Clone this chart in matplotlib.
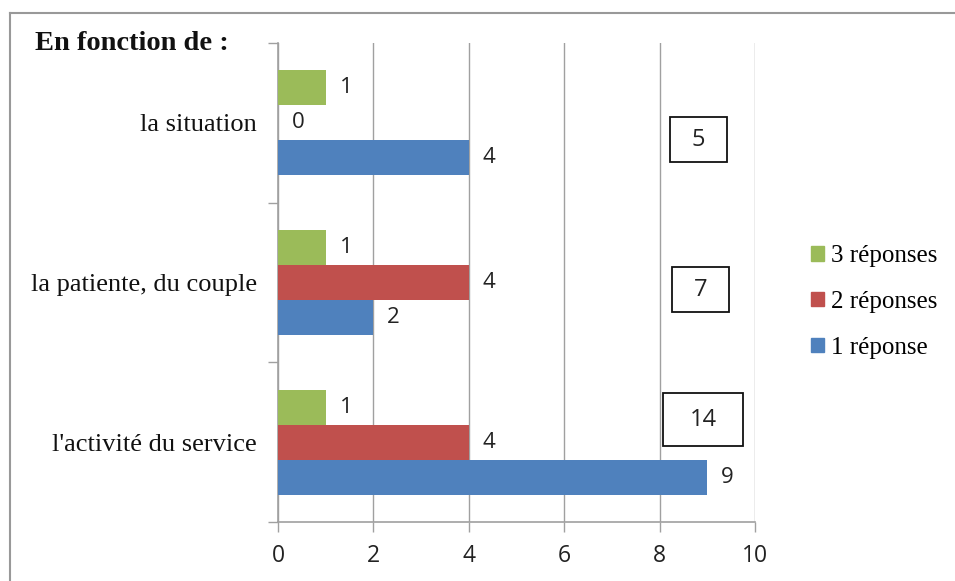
import matplotlib
matplotlib.use("Agg")
import matplotlib.pyplot as plt
from matplotlib.patches import Rectangle, Patch
from matplotlib.lines import Line2D
import numpy as np

categories = ["l'activité du service", "la patiente, du couple", "la situation"]
series_names = ["1 réponse", "2 réponses", "3 réponses"]
rep1 = [9, 2, 4]
rep2 = [4, 4, 0]
rep3 = [1, 1, 1]
colors = ["#4F81BD", "#C0504D", "#9BBB59"]
xticks = [0, 2, 4, 6, 8, 10]
title = "En fonction de :"

W, H = 955, 581
fig = plt.figure(figsize=(W / 100, H / 100), dpi=100)
ax = fig.add_axes([278 / W, 59 / H, 477 / W, 479 / H])

serif = "Liberation Serif"
sans = ["Open Sans", "DejaVu Sans"]
grey = "#A0A0A0"

h = 35 / 160
y = np.arange(len(categories))
allser = [rep1, rep2, rep3]
offs = [-h, 0, h]
for vals, off, c in zip(allser, offs, colors):
    ax.barh(y + off, vals, height=h, color=c, zorder=3)
    for yi, v in zip(y, vals):
        ax.annotate(str(v), (v, yi + off), xytext=(10, 0), textcoords="offset points",
                    ha="left", va="center", fontsize=16, family=sans, color="#222222")

ax.set_xlim(0, 10)
ax.set_ylim(-0.5, 2.5)
ax.set_xticks(xticks)
ax.set_xticklabels([str(t) for t in xticks], fontsize=16.5, family=sans, color="#222222")
ax.set_yticks([-0.5, 0.5, 1.5, 2.5])
ax.set_yticklabels([])
ax.set_yticks(y, minor=True)
ax.set_yticklabels(categories, minor=True, fontsize=19, family=serif, color="#111111")
ax.tick_params(axis="y", which="minor", length=0, pad=15)
ax.tick_params(axis="y", which="major", length=7, color=grey, width=1)
ax.tick_params(axis="x", length=7, color=grey, width=1, pad=9)
ax.grid(axis="x", color=grey, linewidth=1, zorder=0)
for s in ["top", "right"]:
    ax.spines[s].set_visible(False)
for s in ["left", "bottom"]:
    ax.spines[s].set_color(grey)
    ax.spines[s].set_linewidth(1.2)

# total boxes
totals = [a + b + c for a, b, c in zip(rep1, rep2, rep3)]
boxes = [(663, 393, 80, 53), (672, 267, 57, 45), (670, 117, 57, 45)]
for tot, (bx, by, bw, bh) in zip(totals, boxes):
    r = Rectangle((bx / W, 1 - (by + bh) / H), bw / W, bh / H, transform=fig.transFigure,
                  fill=True, facecolor="white", edgecolor="#111111", linewidth=1.3, zorder=5)
    fig.add_artist(r)
    fig.text((bx + bw / 2) / W, 1 - (by + bh / 2) / H, str(tot), ha="center", va="center",
             fontsize=17, family=sans, color="#222222", zorder=6)

# title
fig.text(35 / W, 1 - 44 / H, title, ha="left", va="center", fontsize=20.5,
         fontweight="bold", family=serif, color="#111111")

# legend
handles = [Patch(color=colors[i], label=series_names[i]) for i in [2, 1, 0]]
leg = fig.legend(handles=handles, loc="center left", bbox_to_anchor=(801 / W, 1 - 302 / H),
                 frameon=False, prop={"family": serif, "size": 18}, handlelength=0.5,
                 handleheight=0.5, handletextpad=0.3, labelspacing=0.95, borderaxespad=0)

# outer frame (top and left)
fig.add_artist(Line2D([10 / W, 1], [1 - 13 / H] * 2, transform=fig.transFigure, color="#999999", lw=1.5))
fig.add_artist(Line2D([10 / W] * 2, [0, 1 - 13 / H], transform=fig.transFigure, color="#999999", lw=1.5))

fig.savefig("out.png", dpi=100)
